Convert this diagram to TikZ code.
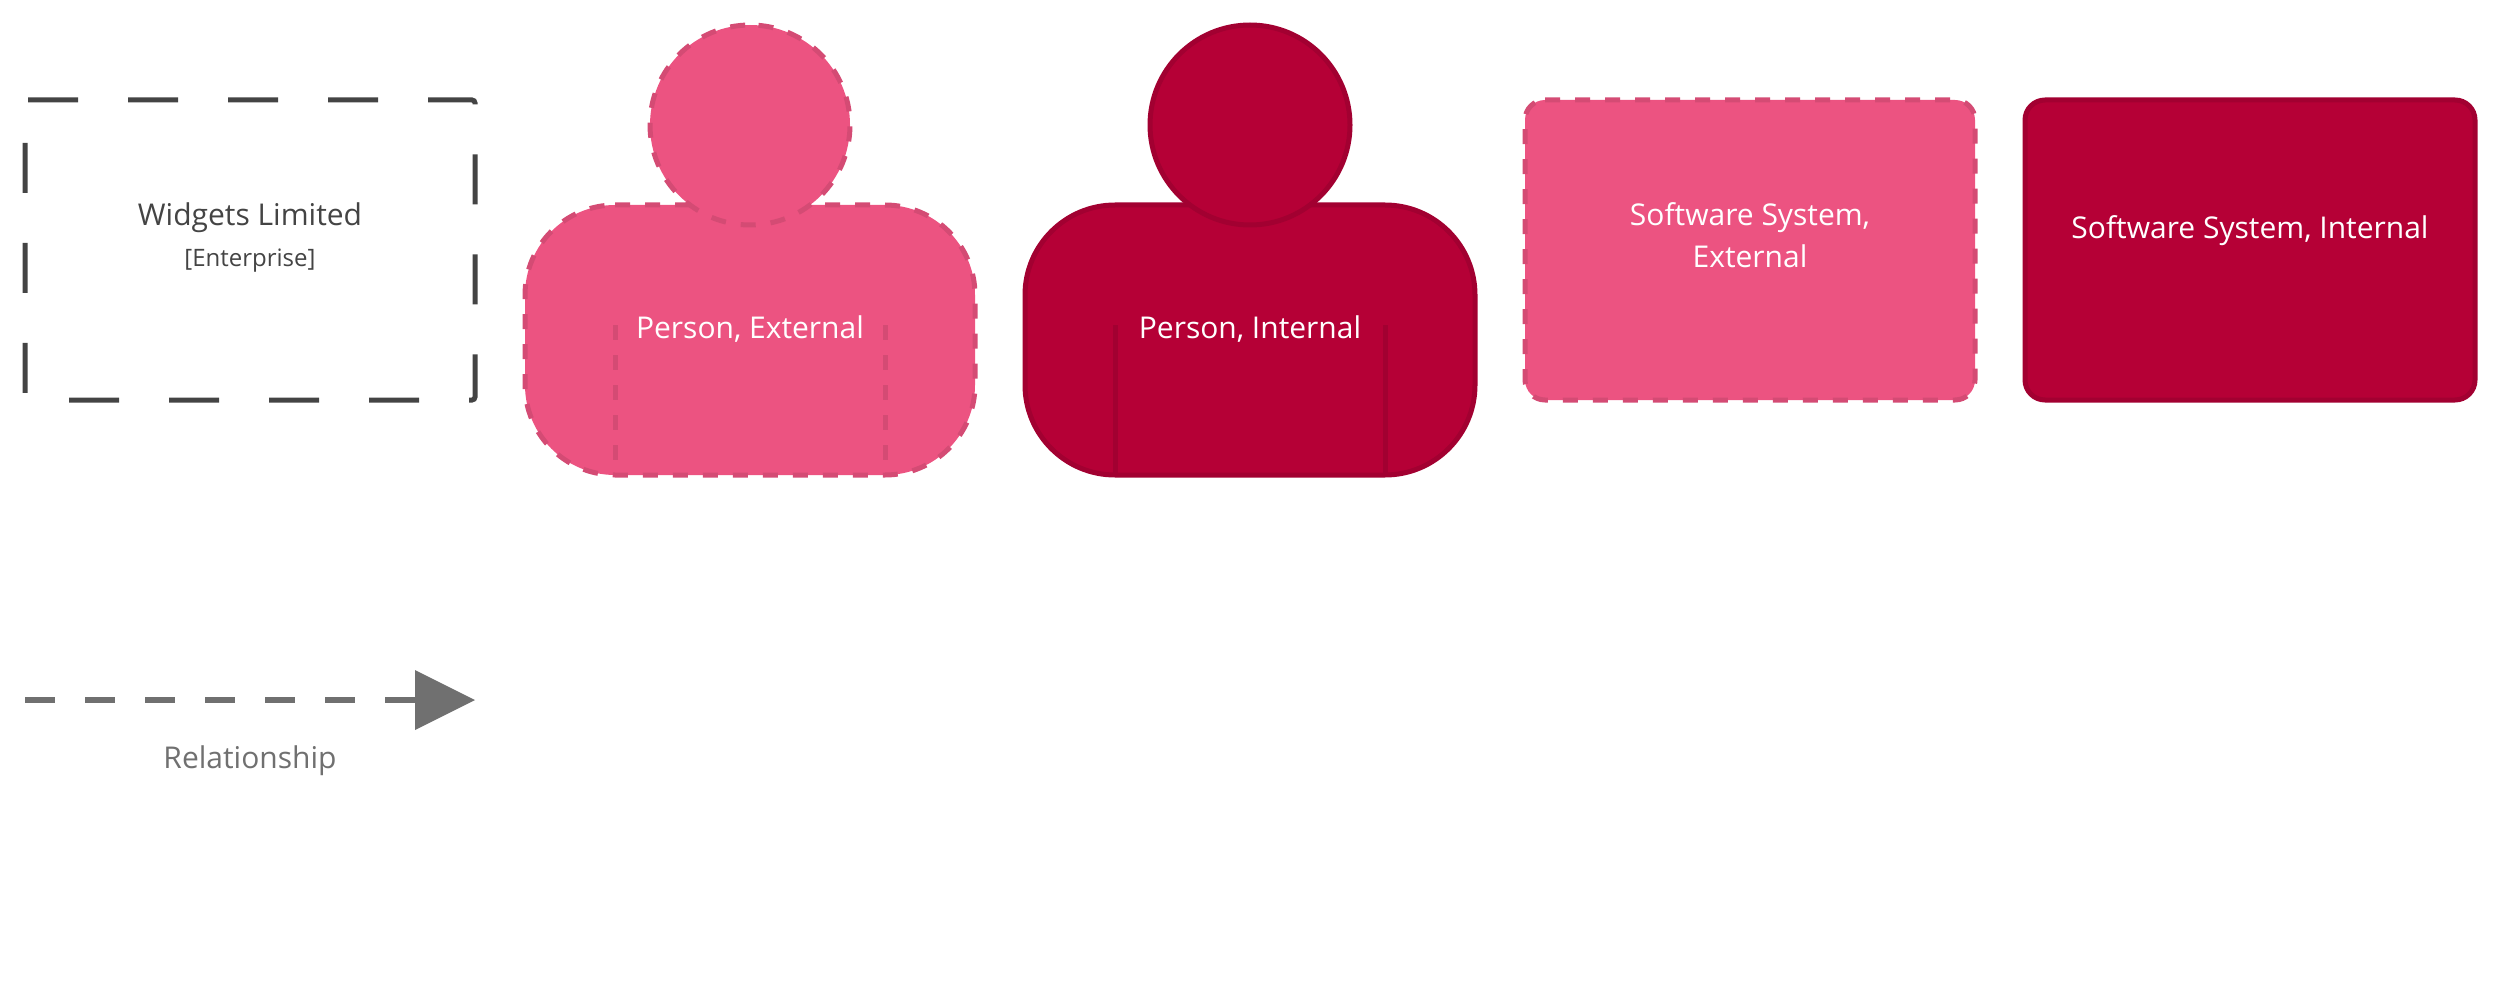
\documentclass[tikz,border=0pt]{standalone}
\usepackage{fontspec}
\setmainfont{Open Sans}
\definecolor{extfill}{HTML}{EC5381}
\definecolor{extline}{HTML}{D44B74}
\definecolor{intfill}{HTML}{B50036}
\definecolor{intline}{HTML}{A20031}
\definecolor{entline}{HTML}{444444}
\definecolor{relcol}{HTML}{707070}
\tikzset{
  extshape/.style={fill=extfill,draw=extline,line width=5pt,dash pattern=on 15pt off 15pt},
  exthead/.style={fill=extfill,draw=extline,line width=5pt,dash pattern=on 15pt off 15pt,dash phase=21.5pt},
  intshape/.style={fill=intfill,draw=intline,line width=5pt},
  extinner/.style={draw=extline,line width=5pt,dash pattern=on 15pt off 15pt},
  intinner/.style={draw=intline,line width=5pt},
  entshape/.style={draw=entline,line width=5pt,dash pattern=on 50pt off 50pt},
  lbl/.style={anchor=base,inner sep=0pt,font=\fontsize{30}{36}\selectfont},
  sublbl/.style={anchor=base,inner sep=0pt,font=\fontsize{24}{30}\selectfont},
}
% rounded box: left, top, right, bottom (top and bottom as negative y), radius, start x
\newcommand{\rbox}[7]{%
  \draw[#1] (#7,#3) -- (#4-#6,#3)
    arc[start angle=90,end angle=0,radius=#6pt] -- (#4,#5+#6)
    arc[start angle=0,end angle=-90,radius=#6pt] -- (#2+#6,#5)
    arc[start angle=-90,end angle=-180,radius=#6pt] -- (#2,#3-#6)
    arc[start angle=180,end angle=90,radius=#6pt] -- cycle;}
\begin{document}
\begin{tikzpicture}[x=1pt,y=1pt]
\useasboundingbox (0,0) rectangle (2500,-1000);
% enterprise
\rbox{entshape}{25}{-100}{475}{-400}{3}{28}
\node[lbl,text=entline] (ent) at (250,-225.5) {Widgets Limited};
\node[sublbl,text=entline] (entsub) at (250,-267) {[Enterprise]};
% person external
\rbox{extshape}{525}{-205}{975}{-475}{90}{615}
\draw[extinner] (615,-325) -- (615,-475);
\draw[extinner] (885,-325) -- (885,-475);
\draw[exthead] (750,-25) arc[start angle=90,end angle=-270,radius=100pt] -- cycle;
\node[lbl,text=white] (pe) at (750,-338.5) {Person, External};
% person internal
\rbox{intshape}{1025}{-205}{1475}{-475}{90}{1115}
\draw[intinner] (1115,-325) -- (1115,-475);
\draw[intinner] (1385,-325) -- (1385,-475);
\draw[intshape] (1250,-25) arc[start angle=90,end angle=-270,radius=100pt] -- cycle;
\node[lbl,text=white] (pi) at (1250,-338.5) {Person, Internal};
% software external
\rbox{extshape}{1525}{-100}{1975}{-400}{20}{1545}
\node[lbl,text=white] (se1) at (1750,-225.5) {Software System,};
\node[lbl,text=white] (se2) at (1750,-267.5) {External};
% software internal
\rbox{intshape}{2025}{-100}{2475}{-400}{20}{2045}
\node[lbl,text=white] (si) at (2250,-238.5) {Software System, Internal};
% relationship
\coordinate (rs) at (25,-700);
\coordinate (rb) at (415,-700);
\coordinate (rt) at (475,-700);
\draw[relcol,line width=6.7pt,dash pattern=on 30pt off 30pt] (rs) -- (rb);
\fill[relcol] (rt) -- (415,-670) -- (415,-730) -- cycle;
\node[lbl,text=relcol] (rel) at (250,-768.5) {Relationship};
\end{tikzpicture}
\end{document}
